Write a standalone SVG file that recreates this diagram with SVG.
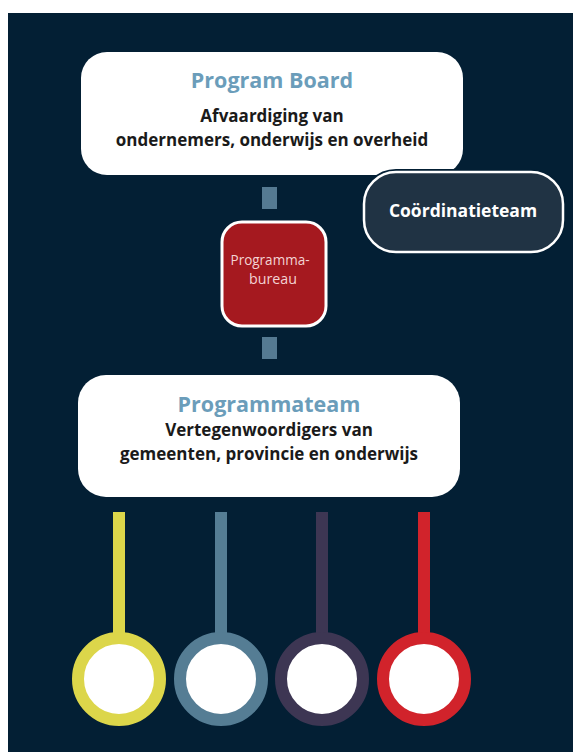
<svg xmlns="http://www.w3.org/2000/svg" width="574" height="752" viewBox="0 0 574 752">
<style>
.box{fill:#ffffff}
.title{font-family:"Open Sans","Noto Sans",sans-serif;font-weight:bold;font-size:21.5px;fill:#6b9dba;text-anchor:middle}
.sub{font-family:"Open Sans","Noto Sans",sans-serif;font-weight:bold;font-size:17px;fill:#1a1a1a;text-anchor:middle}
.small{font-family:"Open Sans","Noto Sans",sans-serif;font-size:15px;fill:#f3d3d3;text-anchor:middle}
.conn{fill:#557a92}
</style>
<rect x="0" y="0" width="574" height="752" fill="#ffffff"/>
<rect x="8" y="13" width="565" height="739" fill="#031f34"/>
<g id="connectors">
<rect class="conn" x="262" y="187" width="15" height="22"/>
<rect class="conn" x="262" y="337" width="15" height="22"/>
<rect x="113" y="512" width="12" height="125" fill="#dcd64a"/>
<rect x="215" y="512" width="12" height="125" fill="#557d94"/>
<rect x="316" y="512" width="12" height="125" fill="#3d3653"/>
<rect x="418" y="512" width="12" height="125" fill="#d1232b"/>
</g>
<g id="program-board">
<rect class="box" x="81" y="52" width="382" height="123" rx="26"/>
<text class="title" x="272" y="88">Program Board</text>
<text class="sub" x="272" y="122">Afvaardiging van</text>
<text class="sub" x="272" y="146">ondernemers, onderwijs en overheid</text>
</g>
<g id="coordinatieteam">
<rect x="364" y="172" width="199" height="80" rx="32" fill="#203344" stroke="#031f34" stroke-width="6"/>
<rect x="364" y="172" width="199" height="80" rx="32" fill="#203344" stroke="#ffffff" stroke-width="2.5"/>
<text x="463" y="217" font-family="'Open Sans','Noto Sans',sans-serif" font-weight="bold" font-size="17.5" fill="#ffffff" text-anchor="middle">Coördinatieteam</text>
</g>
<g id="programmabureau">
<rect x="222" y="222" width="104" height="104" rx="20" fill="#a5191f" stroke="#ffffff" stroke-width="3"/>
<text class="small" x="270" y="265" textLength="79" lengthAdjust="spacingAndGlyphs">Programma-</text>
<text class="small" x="273" y="284" textLength="48" lengthAdjust="spacingAndGlyphs">bureau</text>
</g>
<g id="programmateam">
<rect class="box" x="78" y="375" width="382" height="122" rx="28"/>
<text class="title" x="269" y="412">Programmateam</text>
<text class="sub" x="269" y="436">Vertegenwoordigers van</text>
<text class="sub" x="269" y="460">gemeenten, provincie en onderwijs</text>
</g>
<g id="circle-yellow"><circle cx="119" cy="679" r="41" fill="#ffffff" stroke="#dcd64a" stroke-width="12"/></g>
<g id="circle-blue"><circle cx="221" cy="679" r="41" fill="#ffffff" stroke="#557d94" stroke-width="12"/></g>
<g id="circle-purple"><circle cx="322" cy="679" r="41" fill="#ffffff" stroke="#3d3653" stroke-width="12"/></g>
<g id="circle-red"><circle cx="424" cy="679" r="41" fill="#ffffff" stroke="#d1232b" stroke-width="12"/></g>
</svg>
